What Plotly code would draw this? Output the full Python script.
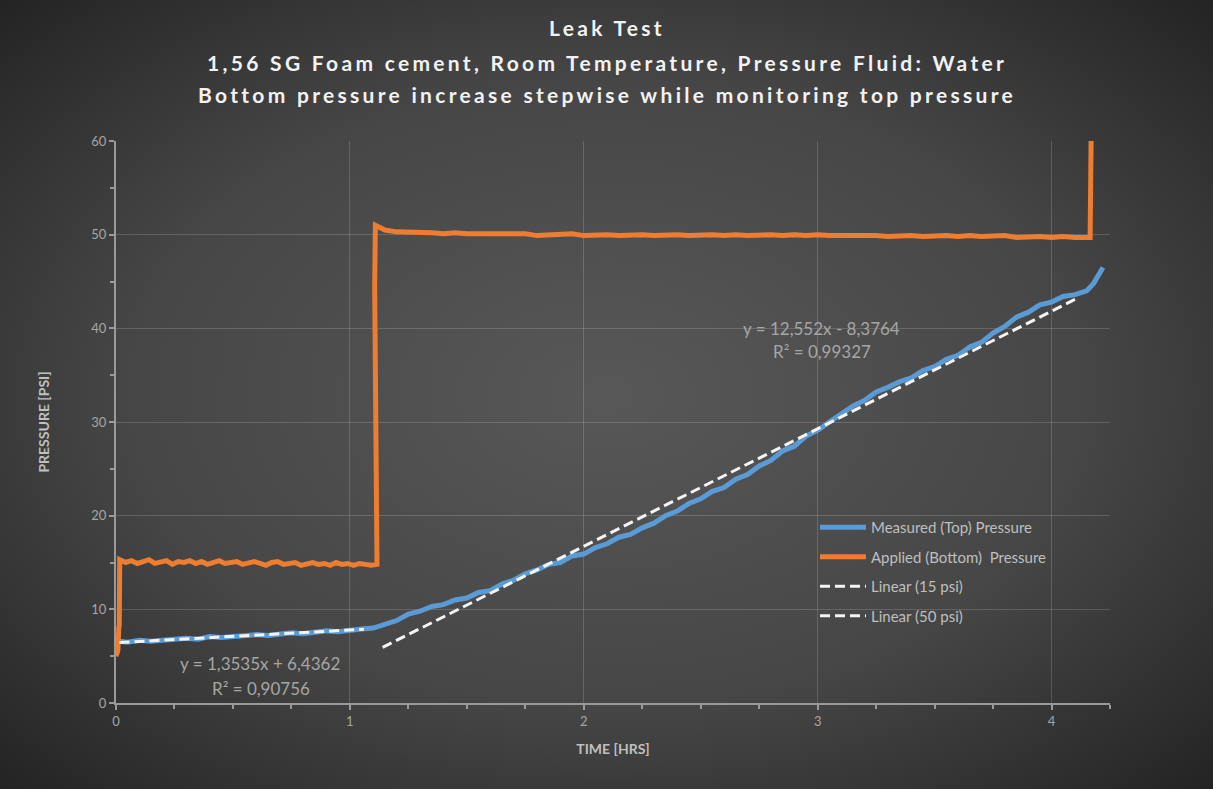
import base64
import plotly.graph_objects as go

# ---- Measured (top) pressure, psi vs hours ----
meas_time = [0.00, 0.01, 0.05, 0.10, 0.15, 0.20, 0.25, 0.30, 0.35, 0.40, 0.45, 0.50,
             0.55, 0.60, 0.65, 0.70, 0.75, 0.80, 0.85, 0.90, 0.95, 1.00, 1.05, 1.10,
             1.15, 1.20, 1.25, 1.30, 1.35, 1.40, 1.45, 1.50, 1.55, 1.60, 1.65, 1.70,
             1.75, 1.80, 1.85, 1.90, 1.95, 2.00, 2.05, 2.10, 2.15, 2.20, 2.25, 2.30,
             2.35, 2.40, 2.45, 2.50, 2.55, 2.60, 2.65, 2.70, 2.75, 2.80, 2.85, 2.90,
             2.95, 3.00, 3.05, 3.10, 3.15, 3.20, 3.25, 3.30, 3.35, 3.40, 3.45, 3.50,
             3.55, 3.60, 3.65, 3.70, 3.75, 3.80, 3.85, 3.90, 3.95, 4.00, 4.05, 4.10,
             4.15, 4.18, 4.20, 4.22]
meas_psi = [6.3, 6.6, 6.5, 6.7, 6.6, 6.7, 6.8, 6.9, 6.8, 7.1, 7.0, 7.1,
            7.2, 7.3, 7.2, 7.4, 7.5, 7.4, 7.6, 7.7, 7.6, 7.8, 7.9, 8.0,
            8.4, 8.8, 9.5, 9.8, 10.3, 10.5, 11.0, 11.2, 11.8, 12.0, 12.7, 13.1,
            13.8, 14.2, 14.8, 15.0, 15.7, 15.9, 16.6, 17.0, 17.7, 18.0, 18.7, 19.2,
            20.0, 20.5, 21.3, 21.8, 22.6, 23.0, 23.9, 24.4, 25.3, 25.9, 26.9, 27.4,
            28.5, 29.1, 30.0, 30.8, 31.7, 32.3, 33.2, 33.7, 34.3, 34.7, 35.5, 35.9,
            36.7, 37.1, 38.0, 38.5, 39.5, 40.2, 41.2, 41.7, 42.5, 42.8, 43.4, 43.6,
            44.0, 44.8, 45.6, 46.5]

# ---- Applied (bottom) pressure, psi vs hours ----
# start-up ramp
app_start_time = [0.000, 0.008, 0.012, 0.014]
app_start_psi = [5.0, 5.6, 8.0, 8.3]
# 15 psi hold, sampled every 0.025 h from 0.016 h
app_hold15_t0, app_hold15_dt = 0.016, 0.025
app_hold15_psi = [15.3, 15.0, 15.2, 14.9, 15.1, 15.3, 14.9, 15.0, 15.2, 14.8,
                  15.1, 15.0, 15.2, 14.9, 15.1, 14.8, 15.0, 15.2, 14.9, 15.0,
                  15.1, 14.8, 15.0, 15.1, 14.9, 14.7, 15.0, 15.1, 14.8, 14.9,
                  15.0, 14.7, 14.9, 15.0, 14.8, 14.9, 14.7, 15.0, 14.8, 14.9,
                  14.7, 14.9, 14.8, 14.7, 14.8]
# step up to 50 psi
app_step_time = [1.103, 1.106, 1.109, 1.13]
app_step_psi = [43.5, 44.5, 51.0, 50.7]
# 50 psi hold, sampled every 0.05 h from 1.15 h
app_hold50_t0, app_hold50_dt = 1.15, 0.05
app_hold50_psi = [50.5, 50.3, 50.3, 50.2, 50.2, 50.1, 50.2, 50.1, 50.1, 50.0,
                  50.1, 50.0, 50.1, 49.9, 50.0, 50.0, 50.1, 49.9, 50.0, 50.0,
                  49.9, 50.0, 50.0, 49.9, 50.0, 50.0, 49.9, 50.0, 50.0, 49.9,
                  50.0, 49.9, 50.0, 50.0, 49.9, 50.0, 49.9, 50.0, 49.9, 49.9,
                  50.0, 49.9, 49.9, 49.8, 49.9, 49.9, 49.8, 49.9, 49.9, 49.8,
                  49.9, 49.8, 49.8, 49.9, 49.7, 49.8, 49.8, 49.7, 49.8, 49.7,
                  49.7]
# final release off the top of the scale
app_end_time = [4.165, 4.17]
app_end_psi = [49.7, 62.0]

# ---- Linear fits: slope, intercept and fitted span (hours) ----
fit15_slope, fit15_icpt = 1.3535, 6.4362
fit15_span = [0.015, 1.06]
fit50_slope, fit50_icpt = 12.552, -8.3764
fit50_span = [1.14, 4.10]

fit15_label = ["y = 1,3535x + 6,4362", "R² = 0,90756"]
fit50_label = ["y = 12,552x - 8,3764", "R² = 0,99327"]

title_lines = ["Leak Test",
               "1,56 SG Foam cement, Room Temperature, Pressure Fluid: Water",
               "Bottom pressure increase stepwise while monitoring top pressure"]

hold15_time = [round(app_hold15_t0 + i * app_hold15_dt, 4) for i in range(len(app_hold15_psi))]
hold50_time = [round(app_hold50_t0 + i * app_hold50_dt, 4) for i in range(len(app_hold50_psi))]
app_time = app_start_time + hold15_time + app_step_time + hold50_time + app_end_time
app_psi = app_start_psi + app_hold15_psi + app_step_psi + app_hold50_psi + app_end_psi

W, H = 1213, 789
L, R, T, B = 116, 103, 141, 86
PW, PH = W - L - R, H - T - B

BLUE = "#5B9BD5"
ORANGE = "#ED7D31"
FONT = "Lato"

fig = go.Figure()
fig.add_trace(go.Scatter(x=meas_time, y=meas_psi, mode="lines",
                         name="Measured (Top) Pressure", legendgroup="a",
                         line=dict(color=BLUE, width=5)))
fig.add_trace(go.Scatter(x=app_time, y=app_psi, mode="lines",
                         name="Applied (Bottom)  Pressure", legendgroup="b",
                         line=dict(color=ORANGE, width=5)))
fig.add_trace(go.Scatter(x=fit15_span,
                         y=[fit15_slope * t + fit15_icpt for t in fit15_span],
                         mode="lines", name="Linear (15 psi)", legendgroup="c",
                         line=dict(color="#f4f4f4", width=3, dash="10px,5px")))
fig.add_trace(go.Scatter(x=fit50_span,
                         y=[fit50_slope * t + fit50_icpt for t in fit50_span],
                         mode="lines", name="Linear (50 psi)", legendgroup="d",
                         line=dict(color="#f4f4f4", width=3, dash="10px,5px")))

# dark radial-gradient backdrop
svg = (f"<svg xmlns='http://www.w3.org/2000/svg' width='{W}' height='{H}'>"
       "<defs><radialGradient id='g' cx='50%' cy='50%' r='72%'>"
       "<stop offset='0' stop-color='#585858'/>"
       "<stop offset='0.55' stop-color='#464646'/>"
       "<stop offset='1' stop-color='#222222'/>"
       "</radialGradient></defs>"
       f"<rect width='{W}' height='{H}' fill='url(#g)'/></svg>")
bg_src = "data:image/svg+xml;base64," + base64.b64encode(svg.encode()).decode()


def py(pix):
    return (H - B - pix) / PH


annotations = []
for line, ypix in zip(title_lines, [28, 62, 95]):
    annotations.append(dict(
        text=f"<span style='letter-spacing:3.3px'><b>{line}</b></span>",
        xref="paper", yref="paper", x=(W / 2 - L) / PW, y=py(ypix),
        xanchor="center", yanchor="middle", showarrow=False,
        font=dict(family=FONT, size=21, color="#f2f2f2")))

for (txt, xv, yv) in [(fit15_label[0], 0.615, 4.2), (fit15_label[1], 0.62, 1.6),
                      (fit50_label[0], 3.017, 40.0), (fit50_label[1], 3.02, 37.5)]:
    annotations.append(dict(text=txt, x=xv, y=yv, xref="x", yref="y",
                            showarrow=False, xanchor="center", yanchor="middle",
                            font=dict(family=FONT, size=17, color="#a6a6a6")))

axis_common = dict(
    showline=True, linecolor="#9a9a9a", linewidth=2,
    showgrid=True, gridcolor="rgba(255,255,255,0.16)", gridwidth=1,
    zeroline=False, ticks="outside", ticklen=5, tickwidth=2, tickcolor="#9a9a9a",
    tickfont=dict(family=FONT, size=13, color="#a6a6a6"),
)

fig.update_layout(
    width=W, height=H,
    margin=dict(l=L, r=R, t=T, b=B, autoexpand=False),
    paper_bgcolor="#3a3a3a", plot_bgcolor="rgba(0,0,0,0)",
    font=dict(family=FONT, color="#bfbfbf"),
    images=[dict(source=bg_src, xref="paper", yref="paper",
                 x=-L / PW, y=1 + T / PH, sizex=W / PW, sizey=H / PH,
                 xanchor="left", yanchor="top", sizing="stretch", layer="below")],
    xaxis=dict(range=[0, 4.25], dtick=1, tick0=0,
               minor=dict(dtick=0.25, ticks="outside", ticklen=4, tickcolor="#9a9a9a",
                          showgrid=False),
               title=dict(text="<b>TIME [HRS]</b>", standoff=17,
                          font=dict(family=FONT, size=14, color="#bfbfbf")),
               **axis_common),
    yaxis=dict(range=[0, 60], dtick=10, tick0=0,
               minor=dict(dtick=5, ticks="outside", ticklen=4, tickcolor="#9a9a9a",
                          showgrid=False),
               title=dict(text="<b>PRESSURE [PSI]</b>", standoff=38,
                          font=dict(family=FONT, size=14, color="#bfbfbf")),
               **axis_common),
    legend=dict(x=(815 - L) / PW, y=py(511), xanchor="left", yanchor="top",
                bgcolor="rgba(0,0,0,0)", itemwidth=46,
                traceorder="grouped", tracegroupgap=7,
                font=dict(family=FONT, size=15, color="#bfbfbf")),
    annotations=annotations,
    showlegend=True,
)

fig.write_html("out.html")
